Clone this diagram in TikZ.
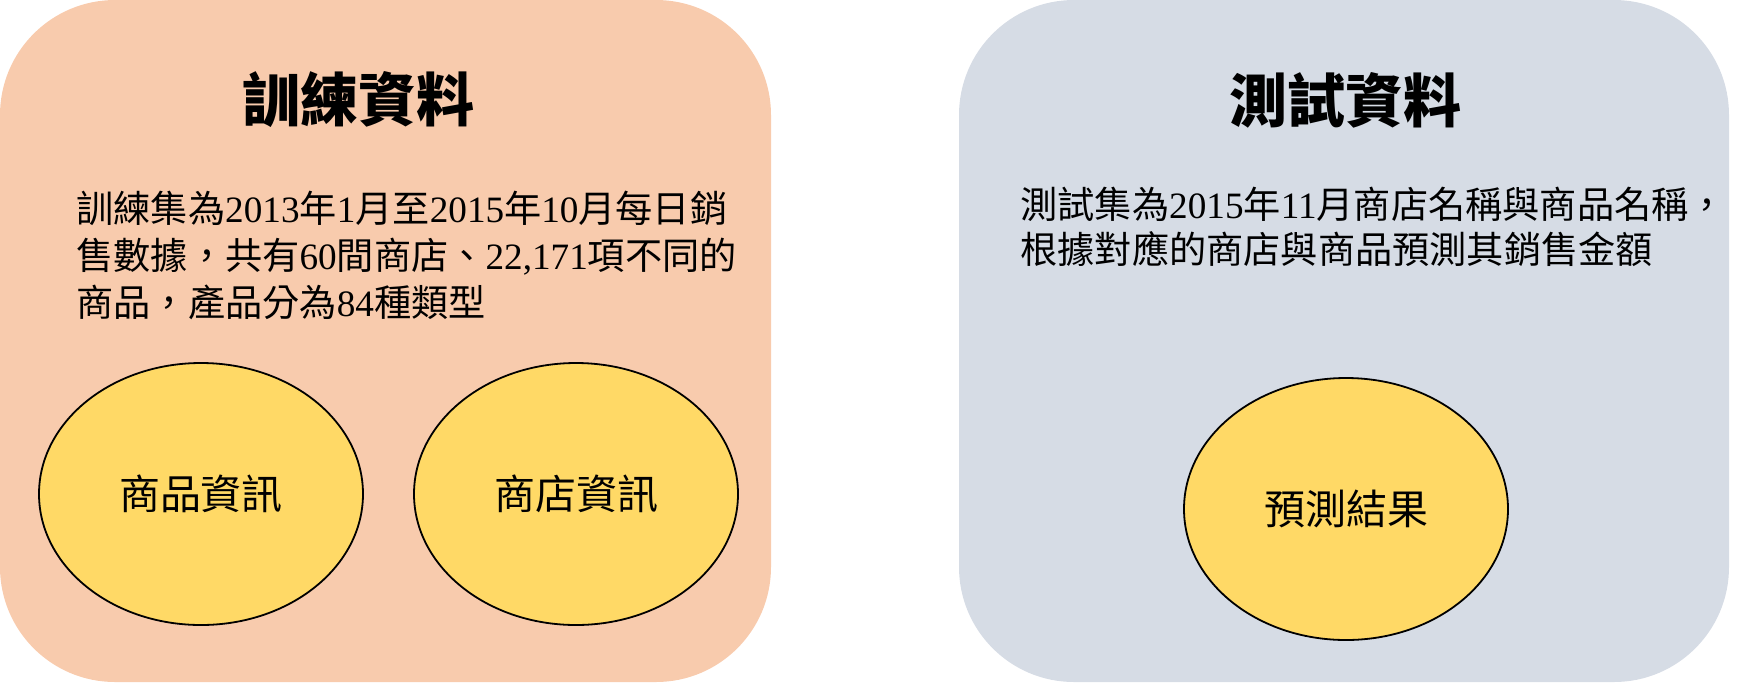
\documentclass[tikz,border=0pt]{standalone}
\usepackage{fontspec}
\setmainfont{Liberation Serif}
\newfontfamily\cjk{Noto Sans CJK TC}
\usetikzlibrary{shapes.geometric}
\definecolor{trainfill}{HTML}{F8CBAD}
\definecolor{testfill}{HTML}{D6DCE5}
\definecolor{ovalfill}{HTML}{FFD966}
\tikzset{
  panel/.style={rounded corners=57.5pt},
  titletext/.style={anchor=center, inner sep=0pt, font=\cjk\bfseries\fontsize{29pt}{34pt}\selectfont},
  bodytext/.style={anchor=base west, inner sep=0pt, font=\fontsize{18.6pt}{23pt}\selectfont},
  oval/.style={ellipse, draw=black, line width=0.9pt, fill=ovalfill, minimum width=162pt, minimum height=131pt, inner sep=0pt},
  ovaltext/.style={anchor=center, inner sep=0pt, font=\cjk\fontsize{20.5pt}{24pt}\selectfont}
}
\begin{document}
\begin{tikzpicture}[x=0.5pt, y=-0.5pt]
\useasboundingbox (0,0) rectangle (1752,682);
% panels
\fill[trainfill, panel] (0,0) rectangle (771,682);
\fill[testfill, panel] (959,0) rectangle (1729,682);
% titles
\node[titletext] (t1) at (358,100) {訓練資料};
\node[titletext] (t2) at (1345,100) {測試資料};
% training text
\node[bodytext] (l1) at (76,222) {{\cjk 訓練集為}2013{\cjk 年}1{\cjk 月至}2015{\cjk 年}10{\cjk 月每日銷}};
\node[bodytext] (l2) at (76,269) {{\cjk 售數據，共有}60{\cjk 間商店、}22,171{\cjk 項不同的}};
\node[bodytext] (l3) at (76,316) {{\cjk 商品，產品分為}84{\cjk 種類型}};
% testing text
\node[bodytext] (r1) at (1020,218) {{\cjk 測試集為}2015{\cjk 年}11{\cjk 月商店名稱與商品名稱，}};
\node[bodytext] (r2) at (1020,263) {{\cjk 根據對應的商店與商品預測其銷售金額}};
% ovals
\node[oval] (goods) at (201,494) {};
\node[ovaltext] at (goods.center) {商品資訊};
\node[oval] (store) at (576,494) {};
\node[ovaltext] at (store.center) {商店資訊};
\node[oval] (pred) at (1346,509) {};
\node[ovaltext] at (pred.center) {預測結果};
\end{tikzpicture}
\end{document}
